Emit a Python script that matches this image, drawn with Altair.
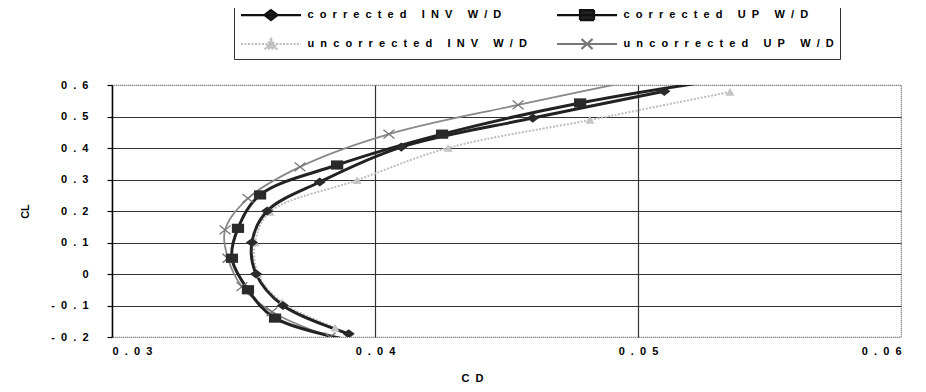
import altair as alt
import pandas as pd

series_names = ["corrected INV W/D", "corrected UP W/D", "uncorrected INV W/D", "uncorrected UP W/D"]

# corrected INV W/D (diamonds)
cinv_cd = [0.0510, 0.0460, 0.0410, 0.0379, 0.0359, 0.03532, 0.03548, 0.0365, 0.0390]
cinv_cl = [0.580, 0.495, 0.403, 0.292, 0.200, 0.100, 0.000, -0.100, -0.190]
# corrected UP W/D (squares)
cup_cd = [0.0538, 0.0478, 0.04255, 0.03856, 0.03563, 0.03479, 0.03456, 0.03517, 0.0362, 0.0396]
cup_cl = [0.625, 0.543, 0.444, 0.346, 0.251, 0.145, 0.050, -0.050, -0.140, -0.220]
# uncorrected INV W/D (triangles)
uinv_cd = [0.0535, 0.04817, 0.04278, 0.03932, 0.03601, 0.03544, 0.03555, 0.03646, 0.03848]
uinv_cl = [0.578, 0.489, 0.400, 0.298, 0.197, 0.100, 0.000, -0.090, -0.170]
# uncorrected UP W/D (x markers)
uup_cd = [0.0505, 0.04544, 0.04053, 0.03715, 0.03517, 0.0343, 0.03441, 0.03494, 0.03608, 0.03829]
uup_cl = [0.625, 0.537, 0.444, 0.340, 0.240, 0.140, 0.050, -0.040, -0.120, -0.200]

x_ticks = [0.03, 0.04, 0.05, 0.06]
y_ticks = [-0.2, -0.1, 0, 0.1, 0.2, 0.3, 0.4, 0.5, 0.6]

rows = []
for name, cds, cls in zip(series_names, [cinv_cd, cup_cd, uinv_cd, uup_cd], [cinv_cl, cup_cl, uinv_cl, uup_cl]):
    for i, (a, b) in enumerate(zip(cds, cls)):
        rows.append({"series": name, "idx": i, "CD": a, "CL": b})
df = pd.DataFrame(rows)
legend_df = pd.DataFrame({"series": series_names})

FONT = "Liberation Sans"
NB = "\u00a0"
spaced = "join(split(datum.value + '', ''), '" + NB + NB + "')"

x_scale = alt.Scale(domain=[0.03, 0.06], nice=False, zero=False)
y_scale = alt.Scale(domain=[-0.2, 0.6], nice=False, zero=False)

x_axis = alt.Axis(values=x_ticks, labelExpr=spaced, title="C" + NB + NB + "D", domain=False, ticks=False,
                  labelPadding=8, titlePadding=16, labelFont=FONT, labelFontWeight="bold",
                  labelFontSize=11, titleFont=FONT, titleFontWeight="bold", titleFontSize=11,
                  labelColor="black", titleColor="black", grid=True, gridColor="#333", gridWidth=1.2,
                  gridOpacity={"expr": "datum.value < 0.035 || datum.value > 0.055 ? 0 : 1"},
                  titleX=360)
y_axis = alt.Axis(values=y_ticks, labelExpr=spaced, title="CL", domain=True, domainColor="black",
                  domainWidth=1.5, ticks=True, tickSize=5, tickColor="black", tickWidth=1.2,
                  labelPadding=19, titlePadding=20, labelFont=FONT, labelFontWeight="bold",
                  labelFontSize=11, titleFont=FONT, titleFontWeight="bold", titleFontSize=11,
                  labelColor="black", titleColor="black", grid=True, gridColor="#333", gridWidth=1.2,
                  gridOpacity={"expr": "datum.value > 0.55 || datum.value < -0.15 ? 0 : 1"})

X = alt.X("CD:Q", scale=x_scale, axis=x_axis)
Y = alt.Y("CL:Q", scale=y_scale, axis=y_axis)

line_styles = {
    "corrected INV W/D": dict(color="#222222", strokeWidth=3),
    "corrected UP W/D": dict(color="#222222", strokeWidth=3),
    "uncorrected INV W/D": dict(color="#bdbdbd", strokeWidth=2, strokeDash=[2, 1.5]),
    "uncorrected UP W/D": dict(color="#888888", strokeWidth=1.8),
}
point_styles = {
    "corrected INV W/D": dict(shape="M0,-0.75L1,0L0,0.75L-1,0Z", size=150, filled=True, color="#2a2a2a"),
    "corrected UP W/D": dict(shape="M-1,-0.75H1V0.75H-1Z", size=150, filled=True, color="#2a2a2a"),
    "uncorrected INV W/D": dict(shape="triangle-up", size=80, filled=True, color="#c4c4c4"),
    "uncorrected UP W/D": dict(shape="M-1,-0.8L1,0.8M-1,0.8L1,-0.8", size=120, filled=False,
                               color="#777777", strokeWidth=1.3),
}

draw_order = ["uncorrected INV W/D", "uncorrected UP W/D", "corrected INV W/D", "corrected UP W/D"]
layers = []
for name in draw_order:
    base = alt.Chart(df).transform_filter(alt.datum.series == name)
    layers.append(base.mark_line(interpolate="catmull-rom", clip=True, **line_styles[name]).encode(
        x=X, y=Y, order="idx:Q"))
for name in draw_order:
    base = alt.Chart(df).transform_filter(alt.datum.series == name)
    layers.append(base.mark_point(clip=True, opacity=1, **point_styles[name]).encode(x=X, y=Y))

legend_paths = [
    "M-6,0H6M0,-1L1.3,0L0,1L-1.3,0Z",
    "M-6,0H6M-1.4,-1H1.4V1H-1.4Z",
    "M-6,0H6M0,-1L1.1,0.9H-1.1Z",
    "M-6,0H6M-1.1,-1L1.1,1M-1.1,1L1.1,-1",
]
leg = alt.Legend(title=None, orient="none", legendX=122, legendY=-82, columns=2, direction="horizontal",
                 labelExpr="join(split(datum.label, ''), '" + NB + NB + "')",
                 labelFont=FONT, labelFontWeight="bold", labelFontSize=11, labelColor="black",
                 labelLimit=500, symbolSize=100, symbolOffset=25, labelOffset=30,
                 symbolStrokeWidth=2.2, symbolOpacity=1, strokeColor="#333", fillColor="white",
                 padding=5.5, rowPadding=10, columnPadding=25)
legend_layer = alt.Chart(legend_df).transform_filter("false").mark_point(filled=False, opacity=1).encode(
    x=X, y=Y,
    shape=alt.Shape("series:N", scale=alt.Scale(domain=series_names, range=legend_paths), legend=leg),
    fill=alt.Fill("series:N", scale=alt.Scale(domain=series_names,
                  range=["#222222", "#222222", "#c4c4c4", "transparent"]), legend=leg),
    stroke=alt.Stroke("series:N", scale=alt.Scale(domain=series_names,
                      range=["#111111", "#111111", "#bdbdbd", "#777777"]), legend=leg),
    strokeDash=alt.StrokeDash("series:N", scale=alt.Scale(domain=series_names,
                              range=[[1, 0], [1, 0], [2, 1.5], [1, 0]]), legend=leg),
)
layers.append(legend_layer)

chart = alt.layer(*layers).properties(
    width=789, height=252,
    padding={"left": 104, "top": 77, "right": 10, "bottom": 50},
    autosize=alt.AutoSizeParams(type="none"),
    background="white",
).configure_view(stroke="#555555", strokeDash=[1, 1], strokeWidth=1.2)

chart.save("out.html", embed_options={"renderer": "svg", "actions": False})
